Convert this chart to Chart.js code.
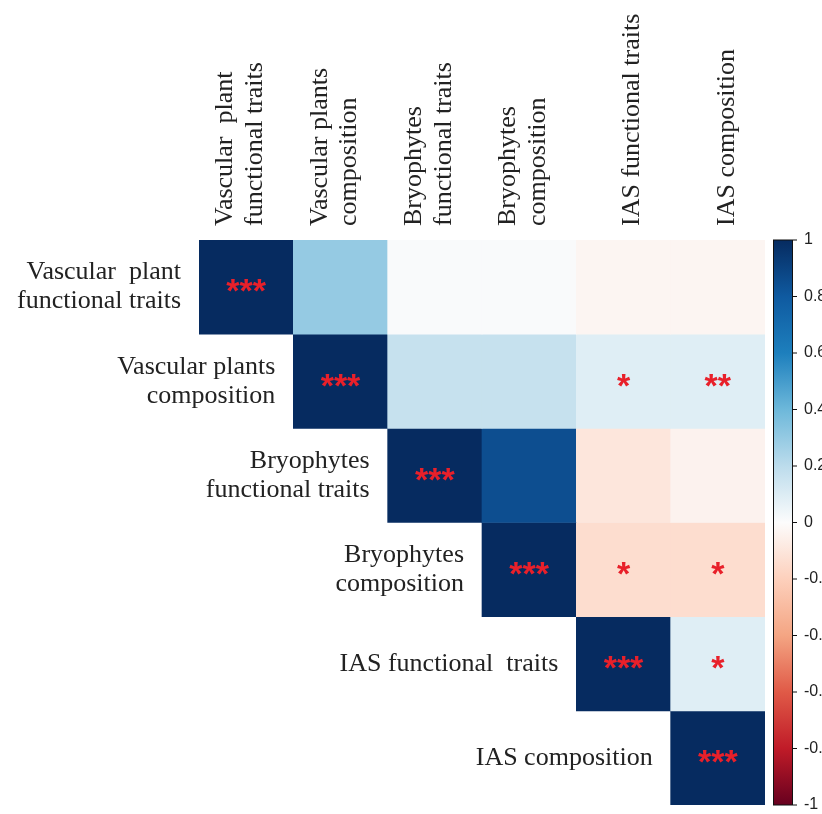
<!DOCTYPE html>
<html>
<head>
<meta charset="utf-8">
<title>Correlation matrix</title>
<script src="https://cdn.jsdelivr.net/npm/chart.js@4"></script>
<style>
  body { margin: 0; background: #fff; }
  #wrap { width: 822px; height: 814px; position: relative; }
</style>
</head>
<body>
<div id="wrap"><canvas id="corrChart"></canvas></div>
<script>
/** data */
const colLabels = [
  ['Vascular  plant', 'functional traits'],
  ['Vascular plants', 'composition'],
  ['Bryophytes', 'functional traits'],
  ['Bryophytes', 'composition'],
  'IAS functional traits',
  'IAS composition',
];
const rowLabels = [
  ['Vascular  plant', 'functional traits'],
  ['Vascular plants', 'composition'],
  ['Bryophytes', 'functional traits'],
  ['Bryophytes', 'composition'],
  ['IAS functional  traits'],
  ['IAS composition'],
];
// upper triangle, null = empty
const row0 = [1, 0.3, 0.01, 0.01, -0.03, -0.03];
const row1 = [null, 1, 0.17, 0.17, 0.09, 0.09];
const row2 = [null, null, 1, 0.85, -0.1, -0.045];
const row3 = [null, null, null, 1, -0.14, -0.14];
const row4 = [null, null, null, null, 1, 0.09];
const row5 = [null, null, null, null, null, 1];
const corrRows = [row0, row1, row2, row3, row4, row5];

const stars0 = ['***', '', '', '', '', ''];
const stars1 = ['', '***', '', '', '*', '**'];
const stars2 = ['', '', '***', '', '', ''];
const stars3 = ['', '', '', '***', '*', '*'];
const stars4 = ['', '', '', '', '***', '*'];
const stars5 = ['', '', '', '', '', '***'];
const starRows = [stars0, stars1, stars2, stars3, stars4, stars5];

const cbTicks = [1, 0.8, 0.6, 0.4, 0.2, 0, -0.2, -0.4, -0.6, -0.8, -1];

// colour scale, from -1 to 1
const paletteStops = [
  '#67001f', '#c01b28', '#e05a47', '#f4a583', '#fdd0bc',
  '#fcfcfc',
  '#bcdcec', '#6db8da', '#1d7fbd', '#0f5aa0', '#062b60',
];

function hexToRgb(h) {
  return [1, 3, 5].map((i) => parseInt(h.substr(i, 2), 16));
}
function colorFor(v) {
  const t = ((v + 1) / 2) * (paletteStops.length - 1);
  const i = Math.min(Math.floor(t), paletteStops.length - 2);
  const f = t - i;
  const a = hexToRgb(paletteStops[i]);
  const b = hexToRgb(paletteStops[i + 1]);
  const c = a.map((x, k) => Math.round(x + (b[k] - x) * f));
  return 'rgb(' + c.join(',') + ')';
}

const datasets = corrRows.map((vals, i) => ({
  label: 'row ' + i,
  data: vals.map((v) => (v === null ? null : [i, i + 1])),
  backgroundColor: vals.map((v) => (v === null ? 'rgba(0,0,0,0)' : colorFor(v))),
  borderWidth: 0,
  barPercentage: 1,
  categoryPercentage: 1,
  grouped: false,
}));

/** stars, row labels, colour bar */
const corrPlugin = {
  id: 'corrExtras',
  afterDatasetsDraw(chart) {
    const ctx = chart.ctx;
    const x = chart.scales.x;
    const y = chart.scales.y;
    const area = chart.chartArea;
    const cellW = x.getPixelForValue(1) - x.getPixelForValue(0);

    ctx.save();
    // stars
    ctx.fillStyle = '#e8202a';
    ctx.font = 'bold 34px "Liberation Sans"';
    ctx.textAlign = 'center';
    ctx.textBaseline = 'middle';
    starRows.forEach((row, i) => {
      const meta = chart.getDatasetMeta(i);
      row.forEach((s, j) => {
        if (!s) return;
        const el = meta.data[j];
        ctx.fillText(s, el.x, (el.y + el.base) / 2 + 6);
      });
    });

    // row labels next to the diagonal
    ctx.fillStyle = '#222';
    ctx.font = '26px "Liberation Serif"';
    ctx.textAlign = 'right';
    const lh = 29;
    rowLabels.forEach((lines, i) => {
      const lx = x.getPixelForValue(i) - cellW / 2 - 18;
      const cy = y.getPixelForValue(i + 0.5);
      lines.forEach((t, k) => {
        ctx.fillText(t, lx, cy + (k - (lines.length - 1) / 2) * lh);
      });
    });

    // colour bar
    const cb = chart.scales.cb;
    const bx = area.right + 8;
    const bw = 20;
    const top = cb.getPixelForValue(1);
    const bot = cb.getPixelForValue(-1);
    const grad = ctx.createLinearGradient(0, bot, 0, top);
    paletteStops.forEach((c, k) => grad.addColorStop(k / (paletteStops.length - 1), c));
    ctx.fillStyle = grad;
    ctx.fillRect(bx, top, bw, bot - top);
    ctx.strokeStyle = '#111';
    ctx.lineWidth = 1;
    ctx.strokeRect(bx + 0.5, top, bw - 1, bot - top);
    ctx.fillStyle = '#222';
    ctx.font = '16px "Liberation Sans"';
    ctx.textAlign = 'left';
    cbTicks.forEach((v) => {
      const py = cb.getPixelForValue(v);
      ctx.beginPath();
      ctx.moveTo(bx + bw, py);
      ctx.lineTo(bx + bw + 4, py);
      ctx.stroke();
      ctx.fillText(String(v), bx + bw + 11, py);
    });
    ctx.restore();
  },
};

const corrChart = new Chart(document.getElementById('corrChart'), {
  type: 'bar',
  data: { labels: colLabels, datasets: datasets },
  options: {
    responsive: true,
    maintainAspectRatio: false,
    animation: false,
    layout: { padding: { left: 199, right: 57, top: 0, bottom: 9 } },
    plugins: { legend: { display: false }, tooltip: { enabled: false } },
    scales: {
      x: {
        position: 'top',
        grid: { display: false },
        border: { display: false },
        ticks: {
          color: '#222',
          font: { family: 'Liberation Serif', size: 26, lineHeight: 1.15 },
          minRotation: 90,
          maxRotation: 90,
          padding: 6,
          labelOffset: 39,
          autoSkip: false,
        },
        afterFit: (scale) => {
          scale.height = 240;
        },
      },
      y: {
        display: false,
        min: 0,
        max: 6,
        reverse: true,
      },
      cb: {
        type: 'linear',
        axis: 'y',
        display: false,
        min: -1,
        max: 1,
      },
    },
  },
  plugins: [corrPlugin],
});
</script>
</body>
</html>
